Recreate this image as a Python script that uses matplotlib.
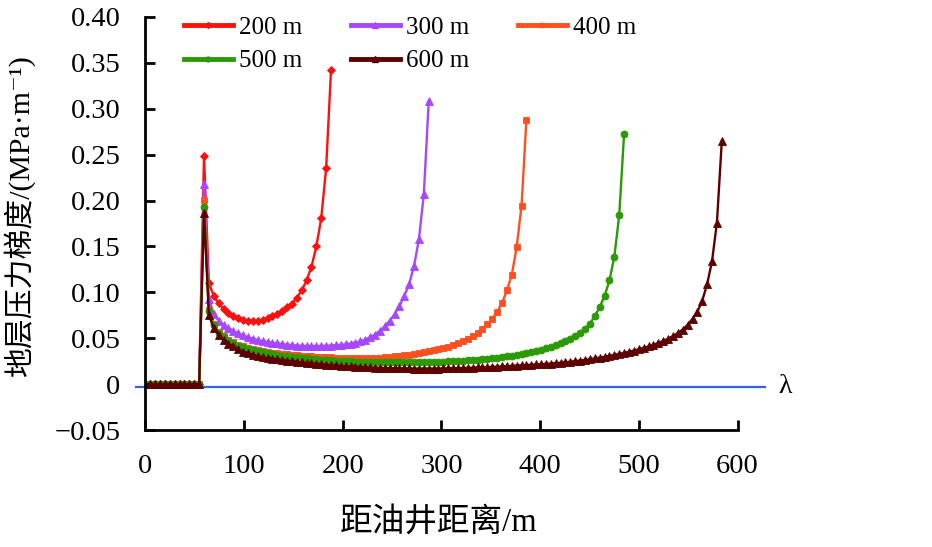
import numpy as np
import matplotlib
matplotlib.use("Agg")
import matplotlib.pyplot as plt
from matplotlib.lines import Line2D

FAMILY = ['Liberation Serif', 'Noto Sans CJK SC', 'DejaVu Serif', 'DejaVu Sans']
plt.rcParams['font.family'] = FAMILY
plt.rcParams['axes.unicode_minus'] = True

# ---------------- data ----------------
series_labels = ['200 m', '300 m', '400 m', '500 m', '600 m']
well_spacing = [200, 300, 400, 500, 600]
step = 4.95   # distance between computed points, m
zero_part = [0.0] * 12

g200 = zero_part + [0.249, 0.110, 0.096, 0.088, 0.082, 0.077, 0.074, 0.0715, 0.070, 0.069,
                    0.0685, 0.069, 0.070, 0.0718, 0.074, 0.0765, 0.080, 0.0835, 0.0875,
                    0.094, 0.102, 0.113, 0.128, 0.150, 0.181, 0.235, 0.342]
g300 = zero_part + [0.2175, 0.093, 0.076, 0.069, 0.0645, 0.061, 0.058, 0.0555, 0.053, 0.051,
                    0.0495, 0.048, 0.047, 0.046, 0.045, 0.0443, 0.0436, 0.043, 0.0425, 0.042,
                    0.0418, 0.0416, 0.0415, 0.0415, 0.0416, 0.0418, 0.042, 0.0424, 0.0428, 0.0434,
                    0.0442, 0.0452, 0.0465, 0.0485, 0.051, 0.054, 0.058, 0.063, 0.069, 0.076,
                    0.085, 0.096, 0.109, 0.129, 0.158, 0.207, 0.308]
g400 = zero_part + [0.201, 0.081, 0.065, 0.057, 0.052, 0.0485, 0.0455, 0.043, 0.041, 0.0395,
                    0.0382, 0.037, 0.036, 0.0351, 0.0343, 0.0336, 0.033, 0.0324, 0.0319, 0.0314,
                    0.031, 0.0306, 0.0302, 0.0299, 0.0296, 0.0293, 0.0291, 0.0289, 0.0287, 0.0286,
                    0.0285, 0.0284, 0.0284, 0.0284, 0.0285, 0.0286, 0.0288, 0.0292, 0.0297, 0.0302,
                    0.0308, 0.0315, 0.0322, 0.033, 0.0339, 0.0348, 0.0357, 0.0368, 0.038, 0.0393,
                    0.0408, 0.0425, 0.0445, 0.0465, 0.049, 0.052, 0.0555, 0.060, 0.065, 0.071,
                    0.079, 0.088, 0.102, 0.119, 0.149, 0.194, 0.288]
g500 = zero_part + [0.193, 0.0795, 0.064, 0.056, 0.051, 0.0475, 0.0445, 0.042, 0.040, 0.0385,
                    0.037, 0.0357, 0.0346, 0.0336, 0.0327, 0.0319, 0.0311, 0.0304, 0.0297, 0.0291,
                    0.0285, 0.028, 0.0275, 0.027, 0.0266, 0.0262, 0.0258, 0.0255, 0.0252, 0.0249,
                    0.0247, 0.0245, 0.0243, 0.0241, 0.024, 0.0239, 0.0238, 0.0238, 0.0237, 0.0237,
                    0.0237, 0.0237, 0.0238, 0.0238, 0.0239, 0.024, 0.0241, 0.0242, 0.0243, 0.0245,
                    0.0247, 0.0249, 0.0252, 0.0255, 0.0258, 0.0262, 0.0266, 0.0271, 0.0276, 0.0282,
                    0.0288, 0.0295, 0.0302, 0.031, 0.0318, 0.0327, 0.0337, 0.0348, 0.036, 0.0375,
                    0.039, 0.0405, 0.0423, 0.0443, 0.0465, 0.049, 0.052, 0.056, 0.060, 0.066,
                    0.074, 0.084, 0.096, 0.113, 0.139, 0.184, 0.273]
g600 = zero_part + [0.1866, 0.075, 0.061, 0.054, 0.048, 0.044, 0.041, 0.038, 0.0355, 0.0337,
                    0.032, 0.0307, 0.0295, 0.0285, 0.0277, 0.027, 0.0263, 0.0256, 0.025, 0.0244,
                    0.0238, 0.0232, 0.0227, 0.0222, 0.0217, 0.0212, 0.0208, 0.0204, 0.020, 0.0196,
                    0.0193, 0.019, 0.0187, 0.0184, 0.0182, 0.018, 0.0178, 0.0176, 0.0175, 0.0174,
                    0.0173, 0.0172, 0.0171, 0.017, 0.017, 0.017, 0.017, 0.017, 0.017, 0.0171,
                    0.0172, 0.0173, 0.0174, 0.0175, 0.0177, 0.0179, 0.0181, 0.0183, 0.0185, 0.0188,
                    0.019, 0.0193, 0.0196, 0.0199, 0.0202, 0.0205, 0.0208, 0.0211, 0.0214, 0.0217,
                    0.022, 0.0224, 0.0228, 0.0233, 0.0238, 0.0244, 0.025, 0.0257, 0.0264, 0.0272,
                    0.028, 0.0289, 0.0298, 0.0308, 0.0318, 0.0329, 0.034, 0.0352, 0.0365, 0.0379,
                    0.0394, 0.041, 0.0428, 0.0448, 0.047, 0.0495, 0.0523, 0.0555, 0.0595, 0.0645,
                    0.071, 0.079, 0.091, 0.109, 0.134, 0.176, 0.265]
gradients = [g200, g300, g400, g500, g600]

lambda_level = -0.003
x_ticks = [0, 100, 200, 300, 400, 500, 600]
x_ticklabels = ['0', '100', '200', '300', '400', '500', '600']
y_ticks = [-0.05, 0, 0.05, 0.10, 0.15, 0.20, 0.25, 0.30, 0.35, 0.40]
y_ticklabels = ['\u22120.05', '0', '0.05', '0.10', '0.15', '0.20', '0.25', '0.30', '0.35', '0.40']

colors = ['#ff1010', '#a548ff', '#ff4f1f', '#2b9a05', '#5e0000']
markers = ['D', '^', 's', 'o', '^']
msizes = [4.4, 6.3, 4.0, 5.0, 6.3]

# ---------------- figure ----------------
W, H = 932, 547
fig = plt.figure(figsize=(W / 100, H / 100), dpi=100)
ax_l, ax_r, ax_t, ax_b = 145.4, 737.5, 17, 430
ax = fig.add_axes([ax_l / W, 1 - ax_b / H, (ax_r - ax_l) / W, (ax_b - ax_t) / H])

for vals, c, m, ms in zip(gradients, colors, markers, msizes):
    x = np.arange(len(vals)) * step
    ax.plot(x, vals, color=c, lw=1.7, marker=m, ms=ms, mec=c, mfc=c, mew=0.6)

ax.axhline(lambda_level, xmin=-10 / 600, xmax=628 / 600, color='#2f63ea', lw=1.6,
           clip_on=False, zorder=1)
ax.text(641, lambda_level, 'λ', fontsize=20, va='center', ha='left')

ax.set_xlim(0, 600)
ax.set_ylim(-0.05, 0.40)
ax.set_xticks(x_ticks)
ax.set_xticklabels(x_ticklabels)
ax.set_yticks(y_ticks)
ax.set_yticklabels(y_ticklabels)
for s in ['top', 'right']:
    ax.spines[s].set_visible(False)
for s in ['left', 'bottom']:
    ax.spines[s].set_linewidth(2)
ax.tick_params(axis='both', direction='in', length=7, width=2, labelsize=20.5)
ax.tick_params(axis='y', pad=18)
ax.tick_params(axis='x', pad=17)

fig.text(19 / W, 1 - 216 / H, '地层压力梯度/(MPa·m⁻¹)', rotation=90,
         ha='center', va='center', fontsize=21.5, family=FAMILY)
fig.text(439 / W, 1 - 522 / H, '距油井距离/m', ha='center', va='center', fontsize=23.5,
         family=FAMILY)

# legend, row-major order
handles = [Line2D([], [], color=c, lw=3.5, marker=m, ms=ms, mec=c, mfc=c)
           for c, m, ms in zip(colors, markers, msizes)]
order = [0, 3, 1, 4, 2]
fig.legend([handles[i] for i in order], [series_labels[i] for i in order],
           loc='upper left', bbox_to_anchor=(184 / W, 1 - 16 / H), bbox_transform=fig.transFigure,
           ncol=3, frameon=False, fontsize=18, borderpad=0, borderaxespad=0,
           handlelength=1.95, handletextpad=0.25, columnspacing=1.95, labelspacing=0.45,
           markerscale=0.7)

fig.savefig('out.png', dpi=100)
